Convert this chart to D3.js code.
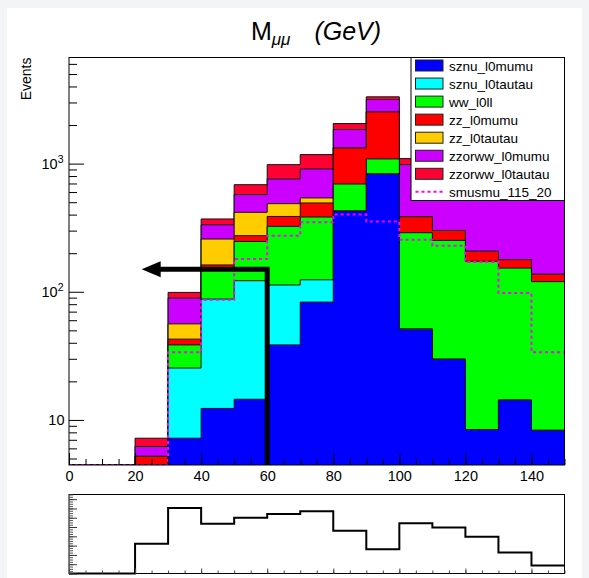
<!DOCTYPE html>
<html><head><meta charset="utf-8">
<script src="https://cdn.jsdelivr.net/npm/d3@7"></script>
<style>
body{margin:0;background:#f3f4f6;}
svg{display:block;}
text{font-family:"Liberation Sans",Arial,Helvetica,sans-serif;}
</style>
</head><body>
<svg id="c" width="589" height="578"></svg>
<script>
// ---------------- data ----------------
const binLow = [0,10,20,30,40,50,60,70,80,90,100,110,120,130,140];
const binHigh = 150;
const sznu_l0mumu     = [0,0,0,7.2,12.3,14.5,38.5,83.1,424,831,50.5,29.8,8.4,14.3,8.3];
const sznu_l0tautau   = [0,0,0,18.2,75.4,107.5,74.5,40.9,5,0,1,0,0,0,0];
const ww_l0ll         = [0,0,0,13.1,62.3,125,211,259,264,257,237.5,222,164.6,138.7,111.7];
const zz_l0mumu       = [0,0,5.2,4.2,12,27,63,110,633,1447,96,49,34,25,17];
const zz_l0tautau     = [0,0,0,13.5,96,143,100,47,0,0,0,0,0,0,0];
const zzorww_l0mumu   = [0,0,1.0,33.1,75,156,272,369,517,627,597,600,600,550,550];
const zzorww_l0tautau = [0,0,1.0,9.6,37,112,223,267,211,158,112,100,90,80,80];
const smusmu_115_20   = [0,0,0,33.8,86.6,180,274,348,400,354,255,229,171,97.7,33.8];
const lowerPanel      = [0,0,3.2,7.05,5.35,6.0,6.4,6.7,4.6,2.6,5.4,4.95,3.95,2.25,0.85];
const seriesNames  = ["sznu_l0mumu","sznu_l0tautau","ww_l0ll","zz_l0mumu","zz_l0tautau","zzorww_l0mumu","zzorww_l0tautau"];
const seriesValues = [sznu_l0mumu,sznu_l0tautau,ww_l0ll,zz_l0mumu,zz_l0tautau,zzorww_l0mumu,zzorww_l0tautau];
const seriesColors = ["#0000ff","#00ffff","#00ff00","#ff0000","#ffcc00","#cc00ff","#ff0033"];
const signalName = "smusmu_115_20";
const xTickLabels = [0,20,40,60,80,100,120,140];
const yMajor = [10,100,1000];
const yMajorLabels = [["10",""],["10","2"],["10","3"]];
const cutValue = 60, cutLevel = 150, arrowTip = 22;

// ---------------- layout ----------------
const svg = d3.select("#c");
svg.append("rect").attr("x",7).attr("y",8).attr("width",575).attr("height",570).attr("fill","#fff");
const L=69, R=564.5, T=57.5, B=465;
const PT=494.5, PB=573.5;

const x = d3.scaleLinear().domain([0,binHigh]).range([L,R]);
const y = d3.scaleLog().domain([4.45,6730]).range([B,T]).clamp(true);
const Y = v => v<=4.45 ? B : y(v);

// stacked table
const rows = binLow.map((b,i)=>{const o={x:b}; seriesNames.forEach((n,k)=>o[n]=seriesValues[k][i]); return o;});
const stack = d3.stack().keys(seriesNames)(rows);

const clip = svg.append("clipPath").attr("id","fr").append("rect").attr("x",L).attr("y",T).attr("width",R-L).attr("height",B-T);
const g = svg.append("g").attr("clip-path","url(#fr)");

function stepPts(vals){ const p = binLow.map((b,i)=>[b,vals[i]]); p.push([binHigh,vals[vals.length-1]]); return p; }
const area = d3.area().curve(d3.curveStepAfter).x(d=>x(d[0])).y0(B).y1(d=>Y(d[1]));
const line = d3.line().curve(d3.curveStepAfter).x(d=>x(d[0])).y(d=>Y(d[1]));

// draw from the top cumulative down (THStack style)
for(let k=stack.length-1;k>=0;k--){
  const tops = stack[k].map(d=>d[1]);
  const pts = stepPts(tops);
  g.append("path").attr("d",area(pts)).attr("fill",seriesColors[k]).attr("stroke","none");
  // outline incl. vertical edges to bottom
  const op = [[0,0]].concat(pts).concat([[binHigh,0]]);
  g.append("path").attr("d",d3.line().curve(d3.curveStepAfter).x(d=>x(d[0])).y(d=>Y(d[1]))(pts))
    .attr("fill","none").attr("stroke","#111").attr("stroke-width",1);
  // vertical edges
  binLow.forEach((b,i)=>{ if(tops[i]>0){
      const prev = i>0?tops[i-1]:0;
  }});
}
// signal dotted
g.append("path").attr("d",line(stepPts(smusmu_115_20))).attr("fill","none")
  .attr("stroke","#ff00ff").attr("stroke-width",2).attr("stroke-dasharray","3,3");

// frame
svg.append("rect").attr("x",L).attr("y",T).attr("width",R-L).attr("height",B-T).attr("fill","none").attr("stroke","#000").attr("stroke-width",1);

// x axis ticks (inward)
const xMinor = d3.range(0,binHigh+0.1,5);
svg.append("g").attr("transform",`translate(0,${B})`)
  .call(d3.axisBottom(x).tickValues(xMinor).tickSize(-6).tickFormat(""))
  .call(a=>{a.select(".domain").remove(); a.selectAll("line").attr("stroke","#000");});
svg.append("g").attr("transform",`translate(0,${B})`)
  .call(d3.axisBottom(x).tickValues(xTickLabels).tickSize(-12).tickPadding(6).tickFormat(d=>d))
  .call(a=>{a.select(".domain").remove(); a.selectAll("line").attr("stroke","#000");
            a.selectAll("text").attr("font-size",14.5).attr("fill","#000").attr("font-family","Liberation Sans, Arial");});

// y axis ticks (inward)
const yMinor=[];
[1,10,100,1000].forEach(d=>{for(let m=2;m<=9;m++){const v=d*m; if(v>4.45&&v<6730) yMinor.push(v);}});
svg.append("g").attr("transform",`translate(${L},0)`)
  .call(d3.axisLeft(y).tickValues(yMinor).tickSize(-8).tickFormat(""))
  .call(a=>{a.select(".domain").remove(); a.selectAll("line").attr("stroke","#000");});
svg.append("g").attr("transform",`translate(${L},0)`)
  .call(d3.axisLeft(y).tickValues(yMajor).tickSize(-15).tickFormat(""))
  .call(a=>{a.select(".domain").remove(); a.selectAll("line").attr("stroke","#000");});
yMajor.forEach((v,i)=>{
  const lab = yMajorLabels[i];
  const t = svg.append("text").attr("x", lab[1]? 63.5 : 64.5).attr("y",y(v)+5.5).attr("text-anchor","end").attr("font-size",14.5);
  t.append("tspan").text(lab[0]);
  if(lab[1]) t.append("tspan").attr("font-size",10.5).attr("dy",-6).text(lab[1]);
});
svg.append("text").attr("transform",`translate(31,${T}) rotate(-90)`).attr("text-anchor","end").attr("font-size",14).text("Events");

// title
const tt = svg.append("text").attr("x",316).attr("y",40).attr("text-anchor","middle").attr("font-size",25);
tt.append("tspan").text("M");
tt.append("tspan").attr("font-size",17).attr("font-style","italic").attr("dy",5).text("μμ");
tt.append("tspan").attr("font-style","italic").attr("dy",-5).attr("dx",24).text("(GeV)");

// arrow
svg.append("path").attr("d",`M${x(cutValue)},${B} L${x(cutValue)},${y(cutLevel)} L${x(arrowTip)+14},${y(cutLevel)}`)
  .attr("fill","none").attr("stroke","#000").attr("stroke-width",5).attr("stroke-linejoin","miter");
svg.append("path").attr("d",`M${x(arrowTip)},${y(cutLevel)} L${x(arrowTip)+19},${y(cutLevel)-8} L${x(arrowTip)+19},${y(cutLevel)+8} Z`).attr("fill","#000");

// legend
const lg = svg.append("g");
lg.append("rect").attr("x",411).attr("y",57.5).attr("width",153.5).attr("height",143).attr("fill","#fff").attr("stroke","#000").attr("stroke-width",1);
const rowH = 18.05, row0 = 65.5;
seriesNames.concat([signalName]).forEach((n,i)=>{
  const cy = row0 + i*rowH;
  if(i<seriesNames.length){
    lg.append("rect").attr("x",415.5).attr("y",cy-5.5).attr("width",27.5).attr("height",11).attr("fill",seriesColors[i]).attr("stroke","#222").attr("stroke-width",1);
  } else {
    lg.append("line").attr("x1",415.5).attr("x2",443).attr("y1",cy).attr("y2",cy).attr("stroke","#ff00ff").attr("stroke-width",2).attr("stroke-dasharray","3,3");
  }
  lg.append("text").attr("x",449).attr("y",cy+5).attr("font-size",13.5).text(n);
});

// ---------------- lower panel ----------------
const y2 = d3.scaleLinear().domain([0,8.5]).range([PB,PT]);
svg.append("path").attr("d",d3.line().curve(d3.curveStepAfter).x(d=>x(d[0])).y(d=>y2(d[1]))(stepPts(lowerPanel)))
  .attr("fill","none").attr("stroke","#000").attr("stroke-width",2);
svg.append("rect").attr("x",L).attr("y",PT).attr("width",R-L).attr("height",PB-PT).attr("fill","none").attr("stroke","#000").attr("stroke-width",1);
svg.append("g").attr("transform",`translate(${L},0)`)
  .call(d3.axisLeft(y2).tickValues(d3.range(0,8.51,0.25)).tickSize(-4).tickFormat(""))
  .call(a=>{a.select(".domain").remove(); a.selectAll("line").attr("stroke","#555");});
svg.append("g").attr("transform",`translate(${L},0)`)
  .call(d3.axisLeft(y2).tickValues(d3.range(0,8.51,1)).tickSize(-8).tickFormat(""))
  .call(a=>{a.select(".domain").remove(); a.selectAll("line").attr("stroke","#333");});
svg.append("g").attr("transform",`translate(0,${PB})`)
  .call(d3.axisBottom(x).tickValues(xMinor).tickSize(-3).tickFormat(""))
  .call(a=>{a.select(".domain").remove(); a.selectAll("line").attr("stroke","#444");});
svg.append("g").attr("transform",`translate(0,${PB})`)
  .call(d3.axisBottom(x).tickValues(xTickLabels).tickSize(-5).tickFormat(""))
  .call(a=>{a.select(".domain").remove(); a.selectAll("line").attr("stroke","#444");});
</script>
</body></html>
